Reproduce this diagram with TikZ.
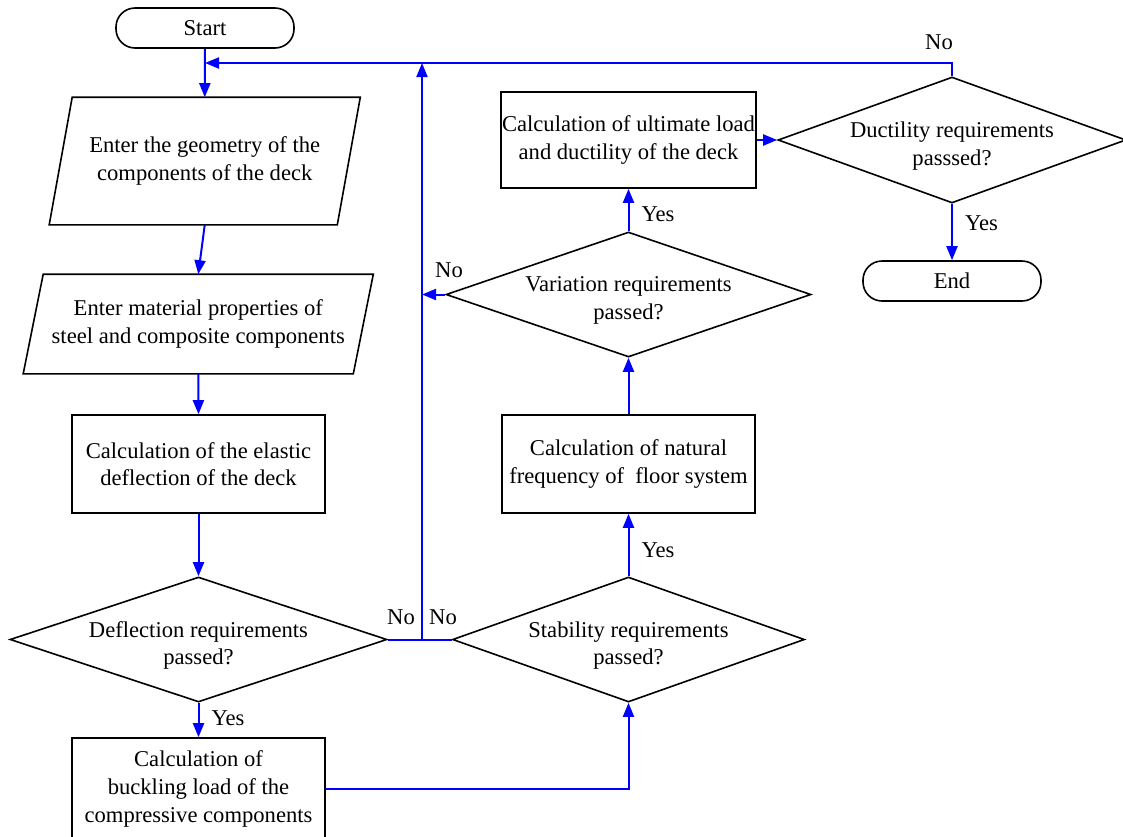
\documentclass[tikz,border=0pt]{standalone}
\usepackage{fontspec}
\setmainfont{Liberation Serif}
\usetikzlibrary{shapes.geometric,arrows.meta}
\definecolor{flowblue}{RGB}{0,0,255}
\tikzset{
  terminal/.style={draw, rounded corners=9.5pt, minimum width=89pt, minimum height=20pt, inner sep=0pt},
  procbox/.style={draw, align=center, minimum width=126.5pt, minimum height=49pt, inner sep=0pt},
  inbox/.style={align=center, inner sep=0pt},
  decide/.style={draw, diamond, inner sep=0pt, minimum height=62.5pt,
    label={[lbl, align=center, yshift=-3pt]center:#1}},
  flowline/.style={flowblue, line width=1pt},
  flow/.style={flowline, -{Triangle[length=7pt,width=5.5pt]}},
  lbl/.style={inner sep=0pt, text=black}
}
\begin{document}
\begin{tikzpicture}[x=0.5pt, y=-0.5pt, line width=0.8pt, font=\fontsize{11.3}{13.8}\selectfont]
  \useasboundingbox (0,0) rectangle (1123,836);
  \clip (0,0) rectangle (1123,836);
  % terminals
  \node[terminal] (start) at (205,28) {Start};
  \node[terminal] (end) at (952,281) {End};
  % input blocks
  \node[inbox, minimum width=143.25pt, minimum height=63pt] (geom) at (204.75,161) {Enter the geometry of the\\components of the deck};
  \node[inbox, minimum width=164.25pt, minimum height=49pt] (props) at (198.25,324) {Enter material properties of\\steel and composite components};
  \foreach \n/\s in {geom/5.75pt, props/5pt}
  \draw ([xshift=\s]\n.north west) -- ([xshift=\s]\n.north east) -- ([xshift=-\s]\n.south east) -- ([xshift=-\s]\n.south west) -- cycle;
  % process blocks
  \node[procbox] (elastic) at (198.5,464) {Calculation of the elastic\\deflection of the deck};
  \node[procbox, minimum height=51pt] (buckling) at (198.5,789) {Calculation of\\buckling load of the\\compressive components};
  \node[procbox] (freq) at (628.5,464) {Calculation of natural\\frequency of \ floor system};
  \node[procbox, minimum width=127.5pt, minimum height=48pt] (ult) at (628.5,140) {Calculation of ultimate load\\and ductility of the deck};
  % decisions
  \node[decide={Deflection requirements\\passed?}, minimum width=188.5pt] (deflect) at (198.5,639.5) {};
  \node[decide={Stability requirements\\passed?}, minimum width=176pt] (stab) at (628.5,639.5) {};
  \node[decide={Variation requirements\\passed?}, minimum width=182.5pt] (var) at (628.5,294.5) {};
  \node[decide={Ductility requirements\\passsed?}, minimum width=174pt, minimum height=63pt] (duct) at (952,140) {};
  % junctions
  \coordinate (loop) at (205,63);
  \coordinate (merge) at (422,639.5);
  \coordinate (back) at (merge |- loop);
  % connectors
  \draw[flow] (start.south) -- (geom.north);
  \draw[flow] (geom.south) -- (props.north);
  \draw[flow] (props.south) -- (elastic.north);
  \draw[flow] (elastic) -- (deflect);
  \draw[flow] (deflect) -- node[lbl, right=6pt, pos=0.44]{Yes} (buckling);
  \draw[flow] (buckling.east) -| (stab.south);
  \draw[flow] (stab) -- node[lbl, right=6pt, pos=0.41]{Yes} (freq);
  \draw[flow] (freq) -- (var);
  \draw[flow] (var) -- node[lbl, right=6pt, pos=0.39]{Yes} (ult);
  \draw[flow] (ult) -- (duct);
  \draw[flow] (duct) -- node[lbl, right=6pt, pos=0.34]{Yes} (end);
  \draw[flow] (duct.north) |- (loop);
  \draw[flowline] (deflect.east) -- (merge) -- (stab.west);
  \draw[flow] (merge) -- (back);
  \draw[flow] (var.west) -- (var.west -| merge);
  % answer labels
  \foreach \p/\t in {{(401,617)}/noa, {(443,617)}/nob, {(449,270)}/noc, {(939,42)}/nod}
  \node[lbl] (\t) at \p {No};
\end{tikzpicture}
\end{document}
